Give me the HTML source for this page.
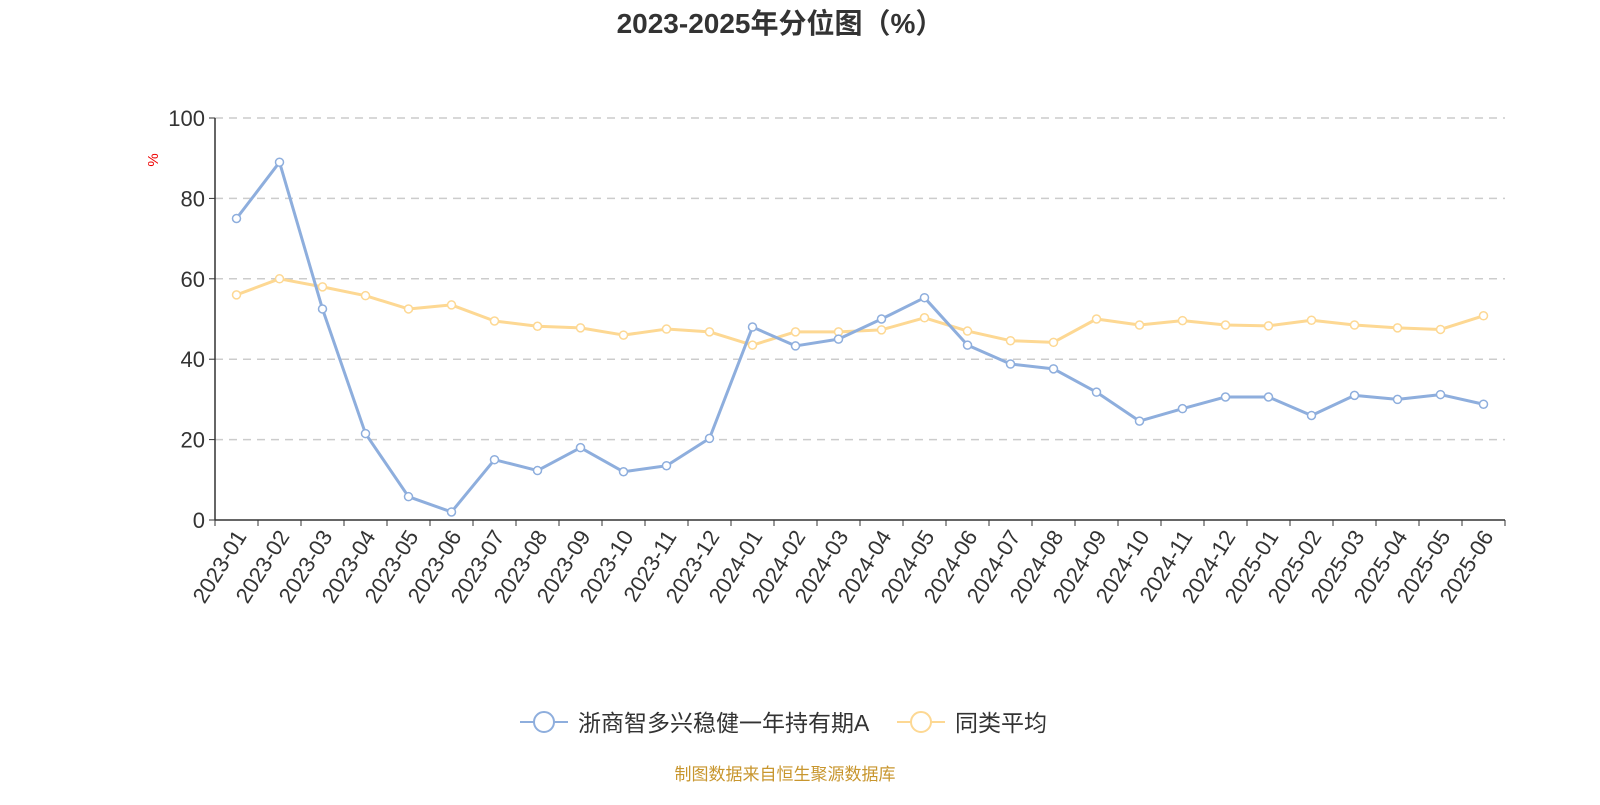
<!DOCTYPE html>
<html><head><meta charset="utf-8"><style>
body{margin:0;background:#fff;}
text{font-family:"Liberation Sans","Noto Sans CJK SC",sans-serif;}
</style></head><body>
<svg id="c" width="1600" height="800" xmlns="http://www.w3.org/2000/svg">
<text x="780" y="33" text-anchor="middle" font-size="28" font-weight="bold" fill="#333">2023-2025年分位图（%）</text>
<text x="158" y="160" font-size="15" fill="#e00" transform="rotate(-90 158 160)" text-anchor="middle">%</text>
<g id="grid"></g><g id="axes"></g><g id="series"></g>
<g>
<g>
<line x1="520" y1="722" x2="568" y2="722" stroke="#8eaedd" stroke-width="2"/>
<circle cx="544" cy="722" r="10" fill="#fff" stroke="#8eaedd" stroke-width="2"/>
<text x="578" y="731" font-size="23" fill="#333">浙商智多兴稳健一年持有期A</text></g>
<g>
<line x1="897" y1="722" x2="945" y2="722" stroke="#fdd893" stroke-width="2"/>
<circle cx="921" cy="722" r="10" fill="#fff" stroke="#fdd893" stroke-width="2"/>
<text x="955" y="731" font-size="23" fill="#333">同类平均</text></g>
</g>
<text x="785" y="780" text-anchor="middle" font-size="17" fill="#c8962e">制图数据来自恒生聚源数据库</text>
</svg>
<script>
const categories=["2023-01","2023-02","2023-03","2023-04","2023-05","2023-06","2023-07","2023-08","2023-09","2023-10","2023-11","2023-12","2024-01","2024-02","2024-03","2024-04","2024-05","2024-06","2024-07","2024-08","2024-09","2024-10","2024-11","2024-12","2025-01","2025-02","2025-03","2025-04","2025-05","2025-06"];
const fundValues=[75,89,52.5,21.5,5.8,2,15,12.3,18,12,13.5,20.3,48,43.3,45,50,55.3,43.5,38.8,37.6,31.8,24.6,27.7,30.6,30.6,26,31,30,31.2,28.8];
const avgValues=[56,60,58,55.8,52.5,53.5,49.5,48.2,47.8,46,47.5,46.8,43.5,46.8,46.8,47.3,50.3,47,44.6,44.2,50,48.5,49.6,48.5,48.3,49.7,48.5,47.8,47.4,50.8];
const yTicks=[0,20,40,60,80,100];
const NS="http://www.w3.org/2000/svg";
const X0=215,X1=1505,Y0=520,Y1=118;
const bw=(X1-X0)/categories.length;
const xs=i=>X0+bw*(i+0.5);
const ys=v=>Y0-(v/100)*(Y0-Y1);
function mk(tag,attrs,parent){const e=document.createElementNS(NS,tag);for(const k in attrs)e.setAttribute(k,attrs[k]);parent.appendChild(e);return e;}
const grid=document.getElementById('grid'),axes=document.getElementById('axes'),ser=document.getElementById('series');
yTicks.forEach(t=>{
 if(t>0){const g=mk('line',{x1:X0,x2:X1,y1:ys(t),y2:ys(t),stroke:'#ccc','stroke-dasharray':'8,6','stroke-width':1.5},grid);
 
 }
 const tk=mk('line',{x1:X0-6,x2:X0,y1:ys(t),y2:ys(t),stroke:'#333'},axes);
 
 
 const l=mk('text',{x:X0-10,y:ys(t)+8,'text-anchor':'end','font-size':22,fill:'#333'},axes);
 l.textContent=t;
 
 
});
const ya=mk('line',{x1:X0,x2:X0,y1:Y1,y2:Y0,stroke:'#333','stroke-width':1.5},axes);


const xa=mk('line',{x1:X0,x2:X1,y1:Y0,y2:Y0,stroke:'#333','stroke-width':1.5},axes);


for(let i=0;i<=categories.length;i++){
 const tk=mk('line',{x1:X0+bw*i,x2:X0+bw*i,y1:Y0,y2:Y0+6,stroke:'#333'},axes);
 
 
}
categories.forEach((c,i)=>{
 const x=xs(i)+4,y=Y0+12;
 const l=mk('text',{x:x,y:y+8,'text-anchor':'end','font-size':22,fill:'#333',transform:`rotate(-58 ${x} ${y})`},axes);
 l.textContent=c;
 
 
});
function drawSeries(vals,color,name){
 const p=mk('polyline',{points:vals.map((v,i)=>xs(i)+','+ys(v)).join(' '),fill:'none',stroke:color,'stroke-width':3,'stroke-linejoin':'round'},ser);
 
 
 vals.forEach((v,i)=>{
  const c=mk('circle',{cx:xs(i),cy:ys(v),r:4,fill:'#fff',stroke:color,'stroke-width':1.5},ser);
  
  
 });
}
drawSeries(avgValues,'#fdd893','average');
drawSeries(fundValues,'#8eaedd','fund');
</script>
</body></html>
